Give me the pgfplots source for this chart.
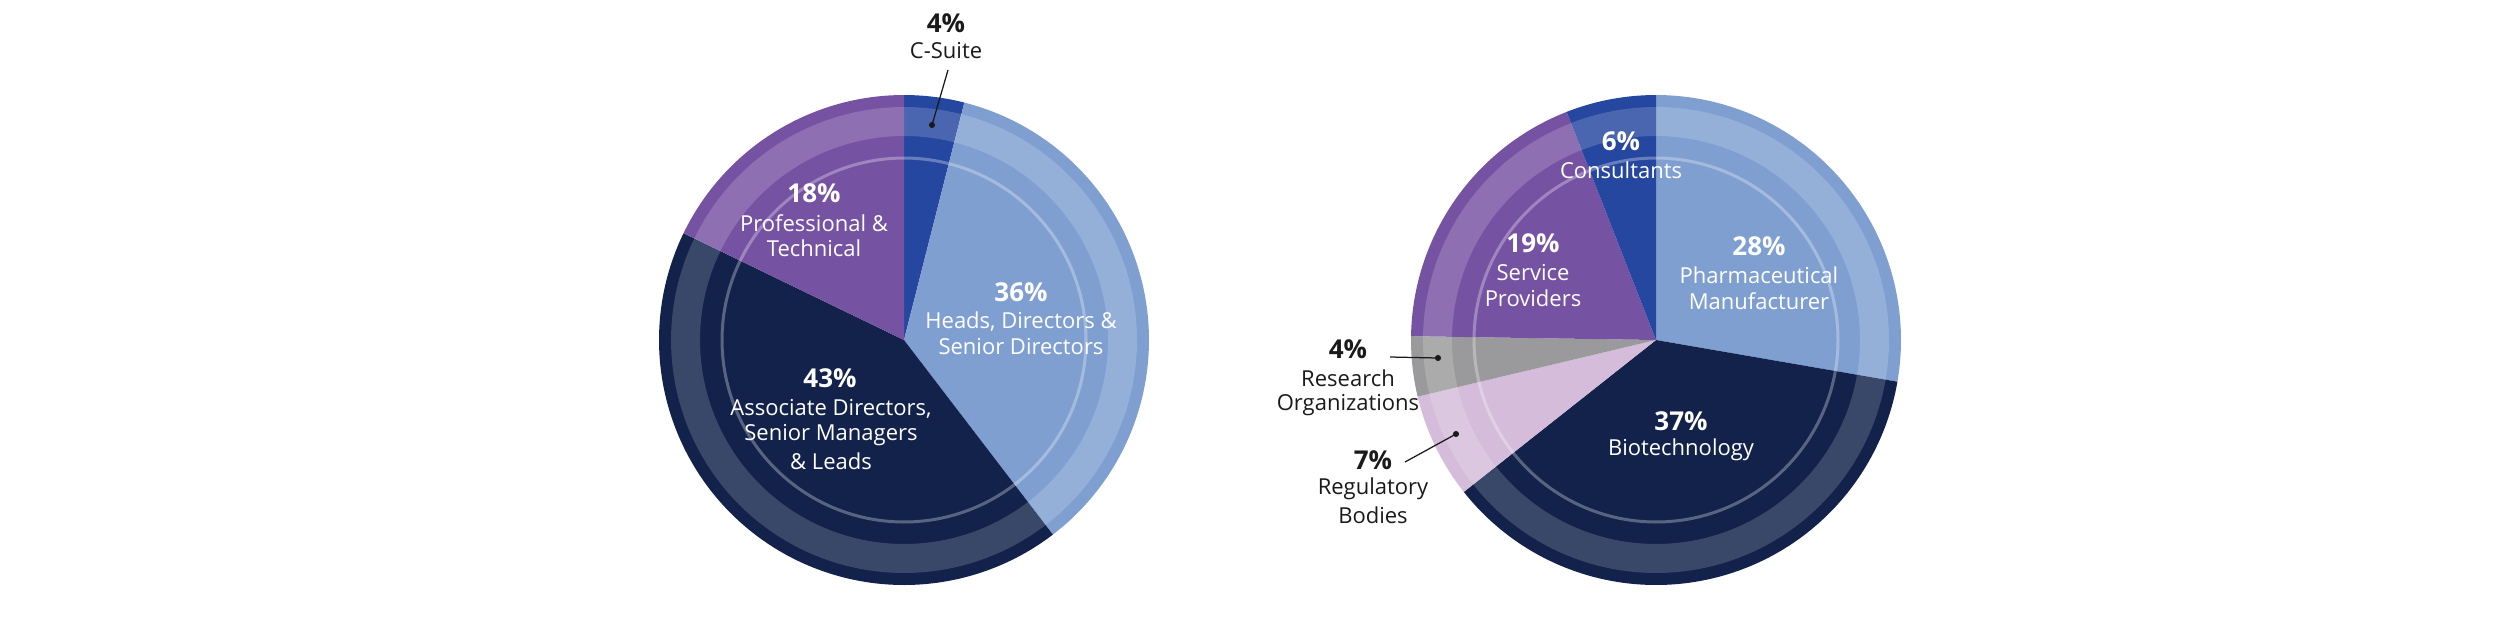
\documentclass[border=0pt]{standalone}
\usepackage{pgfplots}
\pgfplotsset{compat=1.18}
\usepackage{fontspec}
\setmainfont{Open Sans}
\definecolor{cNavy}{HTML}{12224A}
\definecolor{cBlue}{HTML}{2647A0}
\definecolor{cLight}{HTML}{7F9FD1}
\definecolor{cPurple}{HTML}{7652A3}
\definecolor{cGray}{HTML}{9A9A9C}
\definecolor{cLilac}{HTML}{D4BCDA}
\definecolor{cText}{HTML}{1A1A1A}

% ---- data (percent) ----
\def\vCSuite{4}\def\vHeads{36}\def\vAssoc{43}\def\vProf{18}
\def\vPharma{28}\def\vBio{37}\def\vReg{7}\def\vRes{4}\def\vServ{19}\def\vCons{6}

% cumulative angles, clockwise from 12 o'clock
\pgfmathsetmacro{\fL}{360/(\vCSuite+\vHeads+\vAssoc+\vProf)}
\pgfmathsetmacro{\La}{90}
\pgfmathsetmacro{\Lb}{\La-\vCSuite*\fL}
\pgfmathsetmacro{\Lc}{\Lb-\vHeads*\fL}
\pgfmathsetmacro{\Ld}{\Lc-\vAssoc*\fL}
\pgfmathsetmacro{\Le}{\Ld-\vProf*\fL}
\pgfmathsetmacro{\fR}{360/(\vPharma+\vBio+\vReg+\vRes+\vServ+\vCons)}
\pgfmathsetmacro{\Ra}{90}
\pgfmathsetmacro{\Rb}{\Ra-\vPharma*\fR}
\pgfmathsetmacro{\Rc}{\Rb-\vBio*\fR}
\pgfmathsetmacro{\Rd}{\Rc-\vReg*\fR}
\pgfmathsetmacro{\Re}{\Rd-\vRes*\fR}
\pgfmathsetmacro{\Rf}{\Re-\vServ*\fR}
\pgfmathsetmacro{\Rg}{\Rf-\vCons*\fR}

% wedge: cx cy r a(low) a(high) colour
\newcommand{\wedgeplot}[6]{%
  \addplot[fill=#6, draw=none, domain=#4:#5, samples=120]
    ({#1+#3*cos(x)},{#2+#3*sin(x)}) -- (axis cs:#1,#2) -- cycle;}
\newcommand{\ringplot}[5]{% cx cy r width opacity
  \addplot[draw=white, draw opacity=#5, line width=#4, domain=0:360, samples=240]
    ({#1+#3*cos(x)},{#2+#3*sin(x)}) -- cycle;}

\newcommand{\pct}{\fontsize{10.4}{12}\selectfont\bfseries}
\newcommand{\lbl}{\fontsize{8.8}{10.5}\selectfont}

\begin{document}
\begin{tikzpicture}
\begin{axis}[
  width=1000pt, height=250pt, scale only axis,
  xmin=0, xmax=2500, ymin=0, ymax=625,
  hide axis, clip=false,
]
% ---- left pie ----
\wedgeplot{904}{285}{245}{\Lb}{\La}{cBlue}
\wedgeplot{904}{285}{245}{\Lc}{\Lb}{cLight}
\wedgeplot{904}{285}{245}{\Ld}{\Lc}{cNavy}
\wedgeplot{904}{285}{245}{\Le}{\Ld}{cPurple}
\ringplot{904}{285}{218.5}{11.6pt}{0.17}
\ringplot{904}{285}{182}{1.2pt}{0.3}
% ---- right pie ----
\wedgeplot{1656}{285}{245}{\Rb}{\Ra}{cLight}
\wedgeplot{1656}{285}{245}{\Rc}{\Rb}{cNavy}
\wedgeplot{1656}{285}{245}{\Rd}{\Rc}{cLilac}
\wedgeplot{1656}{285}{245}{\Re}{\Rd}{cGray}
\wedgeplot{1656}{285}{245}{\Rf}{\Re}{cPurple}
\wedgeplot{1656}{285}{245}{\Rg}{\Rf}{cBlue}
\ringplot{1656}{285}{218.5}{11.6pt}{0.17}
\ringplot{1656}{285}{182}{1.2pt}{0.3}
% ---- leader lines ----
\addplot[cText, line width=0.5pt] coordinates {(948,555) (932,500)};
\addplot[cText, line width=0.5pt] coordinates {(1390,268) (1438,267)};
\addplot[cText, line width=0.5pt] coordinates {(1405,163) (1456,191)};
\addplot[only marks, mark=*, mark size=1pt, cText] coordinates {(932,500) (1438,267) (1456,191)};

\begin{scope}[every node/.style={inner sep=0pt, anchor=center}]
% left labels
\node[text=cText] at (axis cs:946,602) {\pct 4\%};
\node[text=cText] at (axis cs:946,574) {\lbl C-Suite};
\node[text=white] at (axis cs:814,432) {\pct 18\%};
\node[text=white] at (axis cs:814,402) {\lbl Professional \&};
\node[text=white] at (axis cs:814,377) {\lbl Technical};
\node[text=white] at (axis cs:1021,333) {\pct 36\%};
\node[text=white] at (axis cs:1021,303) {\lbl Heads, Directors \&};
\node[text=white] at (axis cs:1021,278) {\lbl Senior Directors};
\node[text=white] at (axis cs:830,247) {\pct 43\%};
\node[text=white] at (axis cs:831,216) {\lbl Associate Directors,};
\node[text=white] at (axis cs:831,190) {\lbl Senior Managers};
\node[text=white] at (axis cs:831,164) {\lbl \& Leads};
% right labels
\node[text=white] at (axis cs:1621,484) {\pct 6\%};
\node[text=white] at (axis cs:1621,455) {\lbl Consultants};
\node[text=white] at (axis cs:1533,382) {\pct 19\%};
\node[text=white] at (axis cs:1533,352) {\lbl Service};
\node[text=white] at (axis cs:1533,327) {\lbl Providers};
\node[text=white] at (axis cs:1759,379) {\pct 28\%};
\node[text=white] at (axis cs:1759,350) {\lbl Pharmaceutical};
\node[text=white] at (axis cs:1759,324) {\lbl Manufacturer};
\node[text=white] at (axis cs:1681,204) {\pct 37\%};
\node[text=white] at (axis cs:1681,175) {\lbl Biotechnology};
\node[text=cText] at (axis cs:1348,276) {\pct 4\%};
\node[text=cText] at (axis cs:1348,247) {\lbl Research};
\node[text=cText] at (axis cs:1348,220) {\lbl Organizations};
\node[text=cText] at (axis cs:1373,165) {\pct 7\%};
\node[text=cText] at (axis cs:1373,136) {\lbl Regulatory};
\node[text=cText] at (axis cs:1373,110) {\lbl Bodies};
\end{scope}
\end{axis}
\pgfresetboundingbox
\path (0,0) rectangle (1000pt,250pt);
\end{tikzpicture}
\end{document}
